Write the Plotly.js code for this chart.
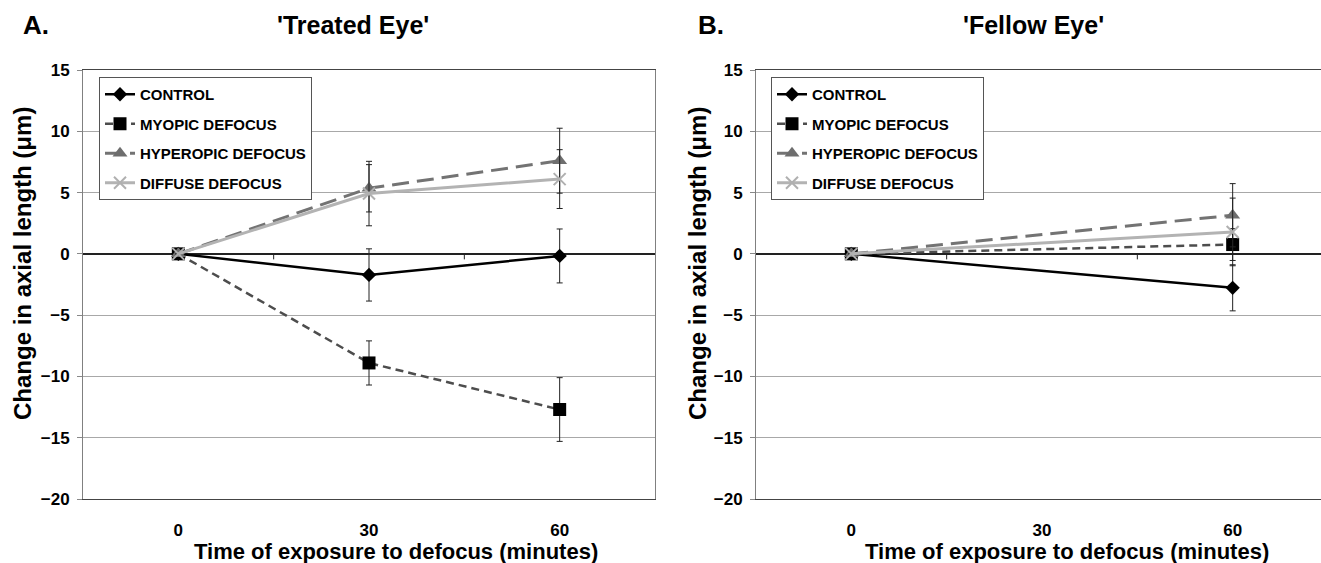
<!DOCTYPE html>
<html>
<head>
<meta charset="utf-8">
<script src="https://cdn.plot.ly/plotly-3.0.1.min.js"></script>
<style>html,body{margin:0;padding:0;background:#fff;}#chart{width:1321px;height:563px;}</style>
</head>
<body>
<div id="chart"></div>
<script>
// ---- data ----
const timeLabels = ['0', '30', '60'];
const seriesNames = ['CONTROL', 'MYOPIC DEFOCUS', 'HYPEROPIC DEFOCUS', 'DIFFUSE DEFOCUS'];

// Panel A: Treated eye (values at 0, 30, 60 min)
const treatedControl = [0, -1.72, -0.17];
const treatedControlErr = [0, 2.13, 2.2];
const treatedMyopic = [0, -8.9, -12.7];
const treatedMyopicErr = [0, 1.8, 2.6];
const treatedHyperopic = [0, 5.35, 7.6];
const treatedHyperopicErr = [0, 1.93, 2.65];
const treatedDiffuse = [0, 4.92, 6.1];
const treatedDiffuseErr = [0, 2.63, 2.4];

// Panel B: Fellow eye (no measurement at 30 min)
const fellowControl = [0, null, -2.77];
const fellowControlErr = [0, null, 1.88];
const fellowMyopic = [0, null, 0.76];
const fellowMyopicErr = [0, null, 1.3];
const fellowHyperopic = [0, null, 3.15];
const fellowHyperopicErr = [0, null, 2.58];
const fellowDiffuse = [0, null, 1.79];
const fellowDiffuseErr = [0, null, 2.76];

// ---- styles ----
const FONT = 'Liberation Sans, Arial, Helvetica, sans-serif';
const styles = [
  {line: {color: '#000000', width: 2.5, dash: 'solid'}, marker: {symbol: 'diamond', size: 11, color: '#000000'}},
  {line: {color: '#4d4d4d', width: 2.5, dash: '8px,5px'}, marker: {symbol: 'square', size: 13, color: '#000000'}},
  {line: {color: '#737373', width: 3, dash: '17px,8px'}, marker: {symbol: 'triangle-up', size: 13, color: '#6e6e6e'}},
  {line: {color: '#b3b3b3', width: 3, dash: 'solid'}, marker: {symbol: 'x-thin-open', size: 12, color: '#b0b0b0', line: {width: 2, color: '#b0b0b0'}}}
];

const xIdx = timeLabels.map((t, i) => i);

function makeTrace(name, y, err, k, xa, ya, leg) {
  return {
    type: 'scatter', mode: 'lines+markers', name: name,
    x: xIdx, y: y, connectgaps: true,
    xaxis: xa, yaxis: ya, legend: leg, legendgroup: leg + k,
    line: styles[k].line, marker: styles[k].marker,
    error_y: {type: 'data', array: err, visible: true, color: '#222222', thickness: 1, width: 3},
    cliponaxis: false, hoverinfo: 'x+y'
  };
}

const treated = [treatedControl, treatedMyopic, treatedHyperopic, treatedDiffuse];
const treatedErr = [treatedControlErr, treatedMyopicErr, treatedHyperopicErr, treatedDiffuseErr];
const fellow = [fellowControl, fellowMyopic, fellowHyperopic, fellowDiffuse];
const fellowErr = [fellowControlErr, fellowMyopicErr, fellowHyperopicErr, fellowDiffuseErr];

const data = [];
seriesNames.forEach((n, k) => data.push(makeTrace(n, treated[k], treatedErr[k], k, 'x', 'y', 'legend')));
seriesNames.forEach((n, k) => data.push(makeTrace(n, fellow[k], fellowErr[k], k, 'x2', 'y2', 'legend2')));

const W = 1321, H = 563;
const yDom = [(H - 499) / H, (H - 70) / H];
const catW = (655 - 83) / 3;

function xAxis(d0, d1, r1, anchor) {
  return {
    domain: [d0, d1], range: [-0.5, r1], anchor: anchor,
    tickmode: 'array', tickvals: xIdx, ticktext: timeLabels,
    ticks: '', showgrid: false, zeroline: false,
    showline: true, mirror: true, linecolor: '#444444', linewidth: 1.2,
    tickfont: {family: FONT, size: 17, color: '#000', weight: 'bold'},
    ticklabelstandoff: 15, fixedrange: true
  };
}
function yAxis(anchor, mirror, lc) {
  return {
    domain: yDom, range: [-20, 15], dtick: 5, tick0: 0, anchor: anchor,
    showgrid: true, gridcolor: '#a8a8a8', gridwidth: 1,
    zeroline: true, zerolinecolor: '#222222', zerolinewidth: 1.5,
    ticks: 'outside', ticklen: 5, tickcolor: '#888888', tickwidth: 1,
    showline: true, mirror: mirror, linecolor: lc, linewidth: 1,
    tickfont: {family: FONT, size: 17, color: '#000', weight: 'bold'},
    ticklabelstandoff: 4, fixedrange: true
  };
}

const legendBase = {
  xanchor: 'left', yanchor: 'top', y: (H - 77) / H,
  bgcolor: '#ffffff', bordercolor: '#555555', borderwidth: 1,
  font: {family: FONT, size: 15, color: '#000', weight: 'bold'},
  tracegroupgap: 7, itemwidth: 30
};

// category-boundary tick marks on the zero line
const shapes = [];
[['x', 'y'], ['x2', 'y2']].forEach(([xr, yr]) => {
  [0.5, 1.5].forEach(v => shapes.push({
    type: 'line', xref: xr, yref: yr, x0: v, x1: v, y0: 0, y1: -0.45,
    line: {color: '#222', width: 1}
  }));
});

const ann = (text, x, y, size, extra) => Object.assign({
  text: text, xref: 'paper', yref: 'paper', x: x / W, y: (H - y) / H,
  showarrow: false, xanchor: 'center', yanchor: 'middle',
  font: {family: FONT, size: size, color: '#000', weight: 'bold'}
}, extra || {});

const layout = {
  width: W, height: H, margin: {l: 0, r: 0, t: 0, b: 0},
  paper_bgcolor: '#ffffff', plot_bgcolor: '#ffffff',
  showlegend: true,
  xaxis: xAxis(83 / W, 655 / W, 2.5, 'y'),
  yaxis: yAxis('x', true, '#808080'),
  xaxis2: xAxis(756 / W, 1, -0.5 + (W - 756) / catW, 'y2'),
  yaxis2: yAxis('x2', false, '#808080'),
  legend: Object.assign({}, legendBase, {x: 99 / W}),
  legend2: Object.assign({}, legendBase, {x: 771 / W}),
  shapes: shapes,
  annotations: [
    ann('A.', 36, 25, 26),
    ann("'Treated Eye'", 353, 25, 25),
    ann('B.', 711, 25, 26),
    ann("'Fellow Eye'", 1033, 25, 25),
    ann('Time of exposure to defocus (minutes)', 396, 551, 22),
    ann('Time of exposure to defocus (minutes)', 1067, 551, 22),
    ann('Change in axial length (μm)', 22, 264, 24, {textangle: -90}),
    ann('Change in axial length (μm)', 697, 264, 24, {textangle: -90})
  ]
};

Plotly.newPlot('chart', data, layout, {staticPlot: true, displayModeBar: false});
</script>
</body>
</html>
